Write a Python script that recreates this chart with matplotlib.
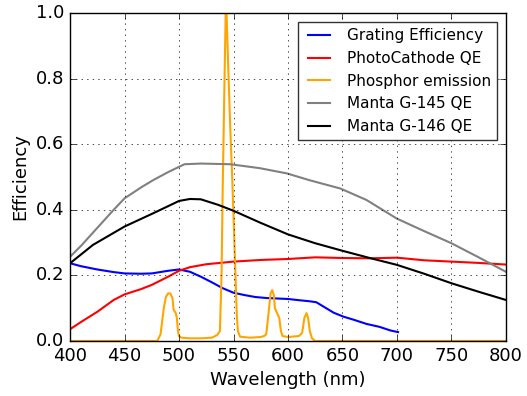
import matplotlib
matplotlib.use('Agg')
import matplotlib.pyplot as plt

plt.style.use('classic')

# Grating efficiency (ends at 700 nm)
grating_wl = [400, 410, 425, 440, 450, 465, 475, 490, 500, 510, 520, 530, 540, 550, 560, 570, 580,
              600, 611, 620, 626, 635, 642, 651, 660, 672, 684, 694, 701]
grating_eff = [0.237, 0.228, 0.218, 0.210, 0.206, 0.205, 0.206, 0.214, 0.218, 0.211, 0.196, 0.179,
               0.161, 0.147, 0.140, 0.134, 0.131, 0.128, 0.124, 0.121, 0.118, 0.100, 0.086, 0.074,
               0.065, 0.052, 0.043, 0.032, 0.027]

# PhotoCathode QE
cathode_wl = [400, 412, 425, 440, 450, 465, 475, 490, 500, 510, 525, 550, 575, 600, 625, 650,
              675, 700, 725, 750, 775, 800]
cathode_qe = [0.036, 0.062, 0.089, 0.125, 0.142, 0.158, 0.171, 0.196, 0.214, 0.225, 0.234, 0.242,
              0.247, 0.250, 0.255, 0.253, 0.252, 0.254, 0.246, 0.242, 0.238, 0.233]

# Phosphor emission
phosphor_wl = [400, 480, 483, 486, 488, 490, 492, 494, 495, 497, 498, 499, 500, 502, 510, 520,
               530, 535, 537.5, 539, 540, 541.5, 542.8, 543.2, 543.6, 545, 547, 549, 550, 551, 552,
               553, 554, 556, 565, 575, 578, 580, 582, 584, 585.5, 587, 588, 590, 592, 593.5, 595,
               600, 610, 613, 615, 617, 618.5, 620, 622, 625, 800]
phosphor_em = [0.0, 0.0, 0.02, 0.10, 0.135, 0.145, 0.145, 0.13, 0.095, 0.085, 0.07, 0.03, 0.015,
               0.010, 0.008, 0.008, 0.010, 0.018, 0.03, 0.2, 0.45, 0.75, 1.0, 1.1, 1.0, 0.85, 0.65,
               0.48, 0.38, 0.28, 0.18, 0.08, 0.03, 0.013, 0.010, 0.012, 0.015, 0.02, 0.08, 0.145,
               0.155, 0.14, 0.10, 0.085, 0.07, 0.03, 0.015, 0.012, 0.015, 0.025, 0.07, 0.085, 0.07,
               0.03, 0.008, 0.0, 0.0]

# Manta G-145 QE
g145_wl = [400, 410, 425, 440, 450, 465, 476, 490, 505, 520, 547, 574, 599, 620, 648, 672, 700,
           725, 750, 775, 800]
g145_qe = [0.257, 0.29, 0.345, 0.40, 0.435, 0.468, 0.49, 0.515, 0.539, 0.541, 0.539, 0.527, 0.511,
           0.49, 0.465, 0.43, 0.373, 0.335, 0.298, 0.255, 0.211]

# Manta G-146 QE
g146_wl = [400, 421, 450, 476, 500, 510, 520, 536, 550, 575, 600, 625, 650, 675, 700, 725, 750,
           775, 800]
g146_qe = [0.237, 0.293, 0.349, 0.389, 0.427, 0.433, 0.432, 0.415, 0.397, 0.36, 0.325, 0.298,
           0.275, 0.253, 0.232, 0.205, 0.176, 0.150, 0.125]

fig = plt.figure(figsize=(5.27, 3.96), dpi=100)
fig.subplots_adjust(left=0.133, right=0.960, bottom=0.139, top=0.967)
ax = fig.add_subplot(111)

ax.plot(grating_wl, grating_eff, color='b', lw=1.5, label='Grating Efficiency')
ax.plot(cathode_wl, cathode_qe, color='r', lw=1.5, label='PhotoCathode QE')
ax.plot(phosphor_wl, phosphor_em, color='orange', lw=1.5, label='Phosphor emission')
ax.plot(g145_wl, g145_qe, color='grey', lw=1.5, label='Manta G-145 QE')
ax.plot(g146_wl, g146_qe, color='k', lw=1.5, label='Manta G-146 QE')

ax.set_xlim(400, 800)
ax.set_ylim(0, 1.0)
ax.grid(True)
ax.tick_params(labelsize=13)
ax.set_xlabel('Wavelength (nm)', fontsize=13)
ax.set_ylabel('Efficiency', fontsize=13)
leg = ax.legend(loc='upper right', prop={'size': 11}, borderaxespad=0.6)
leg.get_frame().set_edgecolor('#333333')

fig.savefig('out.png', dpi=100)
